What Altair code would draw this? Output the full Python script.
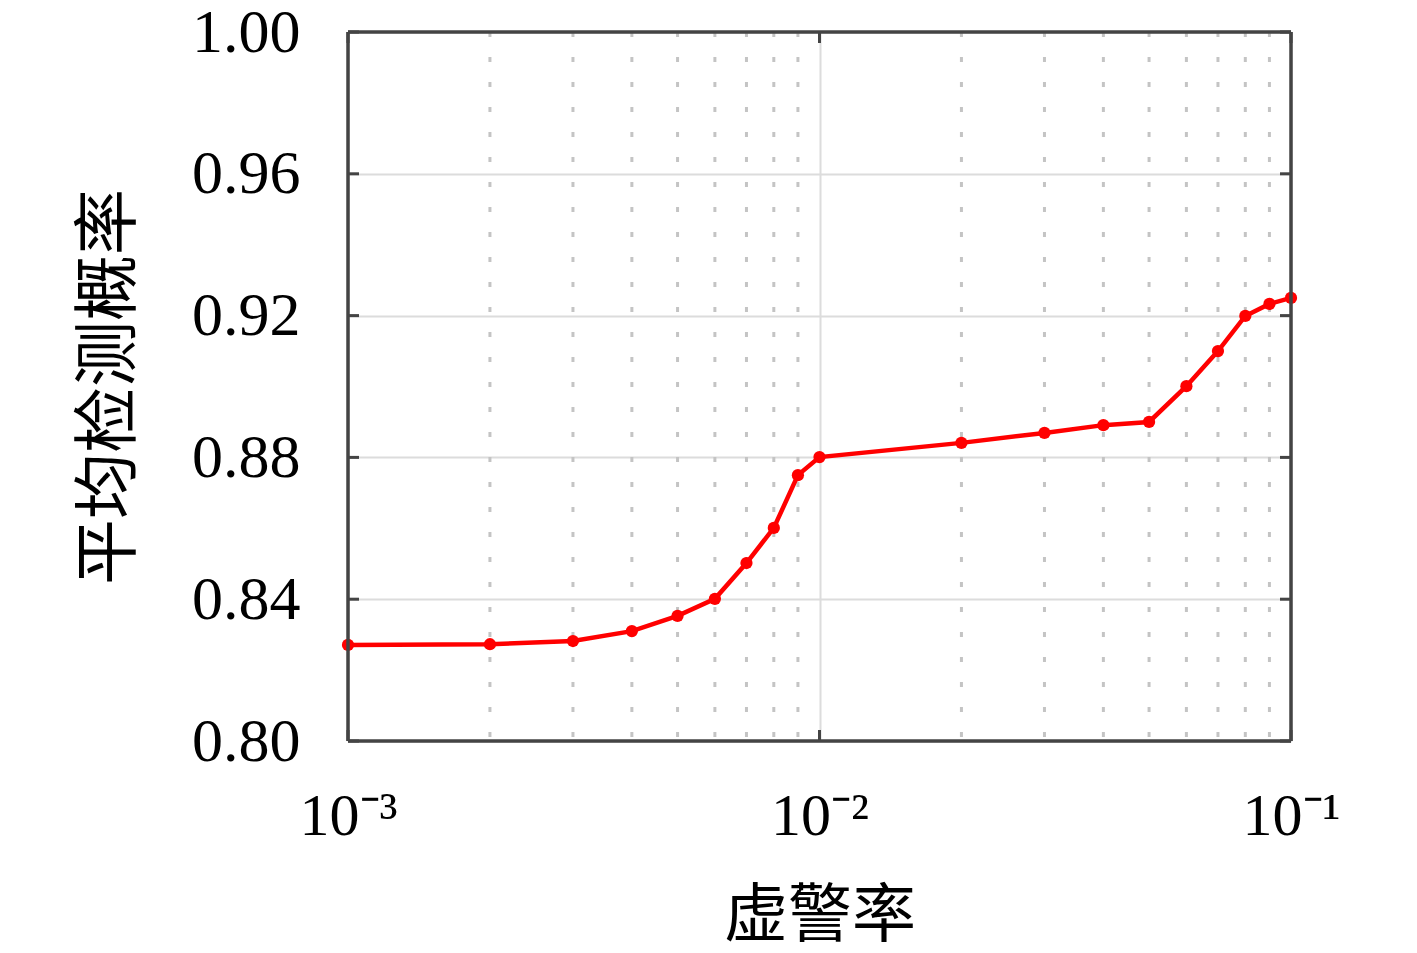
import altair as alt
import pandas as pd

far = [0.001, 0.002, 0.003, 0.004, 0.005, 0.006, 0.007, 0.008, 0.009, 0.01,
       0.02, 0.03, 0.04, 0.05, 0.06, 0.07, 0.08, 0.09, 0.1]
pd_avg = [0.8271, 0.8273, 0.8282, 0.8310, 0.8353, 0.8401, 0.8502, 0.8601, 0.8750, 0.8801,
          0.8841, 0.8869, 0.8891, 0.8900, 0.9001, 0.9100, 0.9199, 0.9233, 0.9250]

x_major = [0.001, 0.01, 0.1]
x_minor = [0.002, 0.003, 0.004, 0.005, 0.006, 0.007, 0.008, 0.009,
           0.02, 0.03, 0.04, 0.05, 0.06, 0.07, 0.08, 0.09]
y_major = [0.80, 0.84, 0.88, 0.92, 0.96, 1.00]

W, H = 943, 709
TICK = 11

df = pd.DataFrame({"far": far, "pd": pd_avg})
xs = alt.Scale(type="log", domain=[0.001, 0.1], nice=False)
ys = alt.Scale(domain=[0.8, 1.0], nice=False, zero=False)

serif = "Liberation Serif"
cjk = "Noto Sans CJK SC"
frame_col = "#444444"

minor = alt.Chart(pd.DataFrame({"v": x_minor})).mark_rule(
    color="#c4c4c4", strokeWidth=3, strokeDash=[5, 20]
).encode(x=alt.X("v:Q", scale=xs), y=alt.value(0), y2=alt.value(H))

xt = pd.DataFrame({"v": x_major})
yt = pd.DataFrame({"v": y_major})
bt = alt.Chart(xt).mark_rule(color=frame_col, strokeWidth=3).encode(
    x=alt.X("v:Q", scale=xs), y=alt.value(H), y2=alt.value(H - TICK))
tt = alt.Chart(xt).mark_rule(color=frame_col, strokeWidth=3).encode(
    x=alt.X("v:Q", scale=xs), y=alt.value(0), y2=alt.value(TICK))
lt = alt.Chart(yt).mark_rule(color=frame_col, strokeWidth=3).encode(
    y=alt.Y("v:Q", scale=ys), x=alt.value(0), x2=alt.value(TICK))
rt = alt.Chart(yt).mark_rule(color=frame_col, strokeWidth=3).encode(
    y=alt.Y("v:Q", scale=ys), x=alt.value(W), x2=alt.value(W - TICK))

frame_df = pd.DataFrame({"side": ["b"]})
fb = alt.Chart(frame_df).mark_rule(color=frame_col, strokeWidth=3.5).encode(
    x=alt.value(0), x2=alt.value(W), y=alt.value(H))
ft = alt.Chart(frame_df).mark_rule(color=frame_col, strokeWidth=3.5).encode(
    x=alt.value(0), x2=alt.value(W), y=alt.value(0))
fl = alt.Chart(frame_df).mark_rule(color=frame_col, strokeWidth=3.5).encode(
    y=alt.value(0), y2=alt.value(H), x=alt.value(0))
fr = alt.Chart(frame_df).mark_rule(color=frame_col, strokeWidth=3.5).encode(
    y=alt.value(0), y2=alt.value(H), x=alt.value(W))

line = alt.Chart(df).mark_line(
    color="#ff0000", strokeWidth=4.5,
    point=alt.OverlayMarkDef(filled=True, color="#ff0000", size=150, opacity=1)
).encode(
    x=alt.X("far:Q", scale=xs, title="虚警率",
            axis=alt.Axis(values=x_major, grid=True, gridColor="#dcdcdc", gridWidth=2,
                          ticks=False, domain=False, labelFont=serif, labelFontSize=60,
                          labelPadding=46, labelColor="black", labelFlush=False,
                          labelOverlap=False,
                          labelExpr="datum.value < 0.005 ? '10⁻³' : (datum.value < 0.05 ? '10⁻²' : '10⁻¹')",
                          titleFont=cjk, titleFontSize=64, titleFontWeight="normal",
                          titlePadding=38, titleColor="black")),
    y=alt.Y("pd:Q", scale=ys, title="平均检测概率",
            axis=alt.Axis(values=y_major, grid=True, gridColor="#dcdcdc", gridWidth=2,
                          ticks=False, domain=False, format=".2f", labelFont=serif,
                          labelFontSize=62, labelPadding=48, labelColor="black",
                          labelFlush=False, labelOverlap=False,
                          titleFont=cjk, titleFontSize=66, titleFontWeight="normal",
                          titlePadding=48, titleColor="black")),
)

chart = alt.layer(minor, line, bt, tt, lt, rt, fb, ft, fl, fr).properties(
    width=W, height=H,
    autosize=alt.AutoSizeParams(type="none"),
    padding={"left": 340, "top": 24, "right": 110, "bottom": 205},
).configure_view(stroke=None).configure(background="white")

chart.save("out.html", embed_options={"renderer": "svg", "actions": False})
